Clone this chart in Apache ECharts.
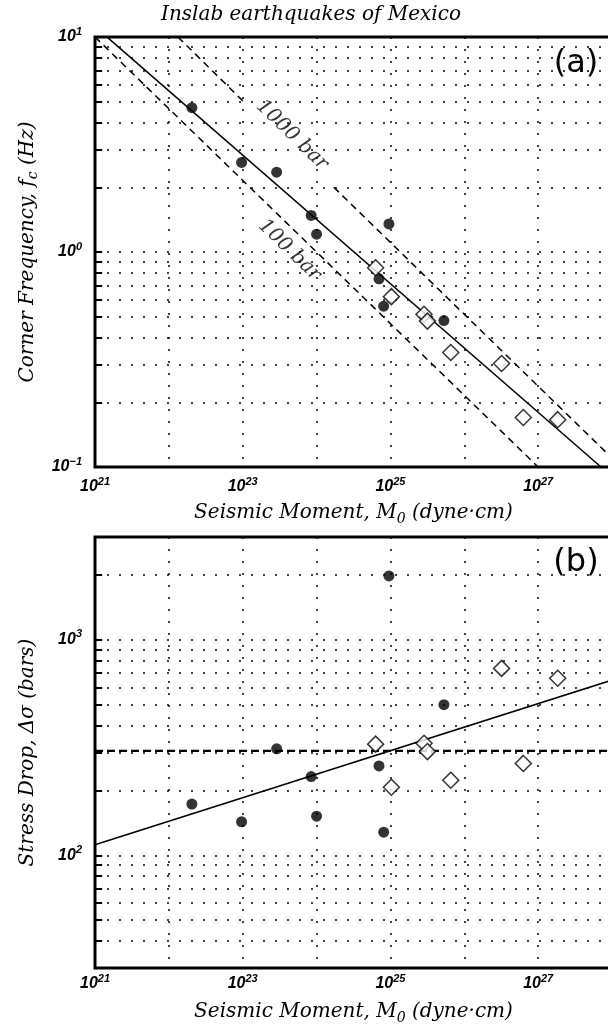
<!DOCTYPE html>
<html>
<head>
<meta charset="utf-8">
<script src="https://cdn.jsdelivr.net/npm/echarts@6/dist/echarts.min.js"></script>
<style>
  html, body { margin: 0; padding: 0; background: #fff; }
  #chart { width: 608px; height: 1028px; }
</style>
</head>
<body>
<div id="chart"></div>
<script>
// filled circles (one set of events), open diamonds (the other set)
var solidM0 = [2.05e22, 9.66e22, 2.88e23, 8.45e23, 1.0e24, 9.55e24, 7.0e24, 8.1e24, 5.3e25]
var solidFc = [4.69, 2.61, 2.35, 1.48, 1.21, 1.35, 0.75, 0.56, 0.48]
var solidDrop = [173, 143, 312, 232, 152, 1980, 260, 128, 500]

var openM0 = [6.3e24, 1.03e25, 2.85e25, 3.17e25, 6.56e25, 3.2e26, 6.3e26, 1.84e27]
var openFc = [0.845, 0.62, 0.513, 0.477, 0.341, 0.303, 0.170, 0.166]
var openDrop = [328, 207, 331, 303, 223, 737, 267, 663]

// fitted lines (end points)
var fitFcM0 = [1.5e21, 7.1e27]
var fitFc = [9.9, 0.1]
var bar100M0 = [1e21, 1e27]
var bar100Fc = [10, 0.1]
// 1000 bar line is broken where its label sits (null = gap)
var bar1000M0 = [1.33e22, 1.03e23, null, 1.71e24, 1e28]
var bar1000Fc = [10, 5.0, null, 2.0, 0.11]
var fitDropM0 = [1e21, 1e28]
var fitDrop = [112, 650]
var meanDropM0 = [1e21, 1e28]
var meanDrop = [305, 305]

// label anchors on the top panel
var label1000 = [4.67e23, 3.5]
var label100 = [4.3e23, 1.02]

// horizontal grid values
var fcGrid = [0.2, 0.3, 0.4, 0.5, 0.6, 0.7, 0.8, 0.9, 1, 2, 3, 4, 5, 6, 7, 8, 9]
var dropGrid = [40, 50, 60, 70, 80, 90, 100, 200, 300, 400, 500, 600, 700, 800, 900, 1000, 2000]
var xLabelExps = [21, 23, 25, 27]

var chart = echarts.init(document.getElementById('chart'))

var serif = 'DejaVu Serif'
var dotStyle = { color: '#000', width: 1.5, type: [2, 10], cap: 'butt' }

var labelRich = {
  b: { fontFamily: 'Liberation Sans', fontStyle: 'italic', fontWeight: 'bold', fontSize: 16, lineHeight: 22, color: '#000' },
  s: { fontFamily: 'Liberation Sans', fontStyle: 'italic', fontWeight: 'bold', fontSize: 11, lineHeight: 11, verticalAlign: 'top', color: '#000' }
}
var nameRich = {
  t: { fontFamily: serif, fontStyle: 'italic', fontSize: 20, lineHeight: 26, color: '#000' },
  u: { fontFamily: serif, fontStyle: 'italic', fontSize: 14, lineHeight: 14, verticalAlign: 'bottom', color: '#000' }
}

function pow10Label (v, only) {
  var e = Math.log10(v)
  var r = Math.round(e)
  if (Math.abs(e - r) > 1e-6) return ''
  if (only && only.indexOf(r) < 0) return ''
  return '{b|10}{s|' + (r < 0 ? '\u2212' + (-r) : r) + '}'
}

function pairs (xs, ys) {
  return xs.map(function (x, i) { return [x, ys[i]] })
}

// split at null entries into separate polyline pieces
function segments (xs, ys) {
  var out = [[]]
  xs.forEach(function (x, i) {
    if (x === null) out.push([])
    else out[out.length - 1].push([x, ys[i]])
  })
  return out
}

function makeGrid (top, height) {
  return {
    left: 95, top: top, width: 517, height: height,
    show: true, borderColor: '#000', borderWidth: 3,
    outerBoundsMode: 'none', containLabel: false
  }
}

function makeX (gi, margin, gap) {
  return {
    type: 'log', logBase: 10, gridIndex: gi, min: 1e21, max: 1e28,
    name: '{t|Seismic Moment, M}{u|0}{t| (dyne\u00b7cm)}',
    nameLocation: 'middle', nameGap: gap,
    nameTextStyle: { rich: nameRich },
    axisLine: { show: false },
    axisTick: { show: false },
    axisLabel: {
      margin: margin, rich: labelRich, showMinLabel: true, showMaxLabel: false,
      formatter: function (v) { return pow10Label(v, xLabelExps) }
    },
    splitLine: { show: true, lineStyle: dotStyle }
  }
}

function makeY (gi, min, max, name) {
  return {
    type: 'log', logBase: 10, gridIndex: gi, min: min, max: max,
    name: name, nameLocation: 'middle', nameRotate: 90, nameGap: 54,
    nameTextStyle: { rich: nameRich },
    axisLine: { show: false },
    axisTick: { show: false },
    axisLabel: {
      margin: 13, rich: labelRich, showMinLabel: true, showMaxLabel: true,
      formatter: function (v) { return pow10Label(v) }
    },
    splitLine: { show: false }
  }
}

// dotted horizontal grid + small inward ticks on the left axis
function gridSeries (xi, values) {
  var lines = values.map(function (v) { return { yAxis: v } })
  var ticks = values.map(function (v) {
    return [{ coord: [1e21, v] }, { coord: [1.25e21, v] }]
  })
  return [{
    type: 'line', xAxisIndex: xi, yAxisIndex: xi, data: [], z: 1, silent: true,
    markLine: { silent: true, symbol: 'none', animation: false, label: { show: false }, lineStyle: dotStyle, data: lines }
  }, {
    type: 'line', xAxisIndex: xi, yAxisIndex: xi, data: [], z: 1, silent: true,
    markLine: { silent: true, symbol: 'none', animation: false, label: { show: false }, lineStyle: { color: '#000', width: 2, type: 'solid' }, data: ticks }
  }]
}

function lineSeries (xi, data, style) {
  return {
    type: 'line', xAxisIndex: xi, yAxisIndex: xi, data: data, z: 3,
    showSymbol: false, symbol: 'none', silent: true, clip: true,
    lineStyle: style
  }
}

var dashed = { color: '#000', width: 1.5, type: [7, 5] }
var solid = { color: '#000', width: 1.5, type: 'solid' }

var series = []
series = series.concat(gridSeries(0, fcGrid), gridSeries(1, dropGrid))
series.push(lineSeries(0, pairs(fitFcM0, fitFc), solid))
series.push(lineSeries(0, pairs(bar100M0, bar100Fc), dashed))
segments(bar1000M0, bar1000Fc).forEach(function (seg) {
  series.push(lineSeries(0, seg, dashed))
})
series.push(lineSeries(1, pairs(fitDropM0, fitDrop), solid))
series.push(lineSeries(1, pairs(meanDropM0, meanDrop), { color: '#000', width: 2.2, type: [8, 4] }))

var circle = { type: 'scatter', symbol: 'circle', symbolSize: 11, z: 5, itemStyle: { color: '#000' } }
var diamond = { type: 'scatter', symbol: 'diamond', symbolSize: 16, z: 6, itemStyle: { color: '#fff', borderColor: '#000', borderWidth: 1.5 } }

series.push(Object.assign({ xAxisIndex: 0, yAxisIndex: 0, data: pairs(solidM0, solidFc) }, circle))
series.push(Object.assign({ xAxisIndex: 0, yAxisIndex: 0, data: pairs(openM0, openFc) }, diamond))
series.push(Object.assign({ xAxisIndex: 1, yAxisIndex: 1, data: pairs(solidM0, solidDrop) }, circle))
series.push(Object.assign({ xAxisIndex: 1, yAxisIndex: 1, data: pairs(openM0, openDrop) }, diamond))

// rotated "1000 bar" / "100 bar" captions
function captionSeries (pt, text) {
  return {
    type: 'scatter', xAxisIndex: 0, yAxisIndex: 0, symbolSize: 0, z: 7, silent: true,
    data: [pt],
    label: {
      show: true, position: 'inside', rotate: -44, formatter: text,
      fontFamily: serif, fontStyle: 'italic', fontSize: 20, color: '#000'
    }
  }
}
series.push(captionSeries(label1000, '1000 bar'))
series.push(captionSeries(label100, '100 bar'))

var option = {
  backgroundColor: '#fff',
  animation: false,
  grid: [makeGrid(37, 430), makeGrid(537, 431)],
  xAxis: [makeX(0, 9, 33), makeX(1, 5, 31)],
  yAxis: [
    makeY(0, 0.1, 10, '{t|Corner Frequency, f}{u|c}{t| (Hz)}'),
    makeY(1, 30, 3000, '{t|Stress Drop, \u0394\u03c3 (bars)}')
  ],
  graphic: [
    { type: 'text', x: 311, y: 15, style: { text: 'Inslab earthquakes of Mexico', fontFamily: serif, fontStyle: 'italic', fontSize: 20, fill: '#000', align: 'center', verticalAlign: 'middle' } },
    { type: 'text', x: 576, y: 64, style: { text: '(a)', fontFamily: 'DejaVu Sans', fontSize: 32, fill: '#000', align: 'center', verticalAlign: 'middle' } },
    { type: 'text', x: 576, y: 563, style: { text: '(b)', fontFamily: 'DejaVu Sans', fontSize: 32, fill: '#000', align: 'center', verticalAlign: 'middle' } }
  ],
  series: series
}

chart.setOption(option)
</script>
</body>
</html>
